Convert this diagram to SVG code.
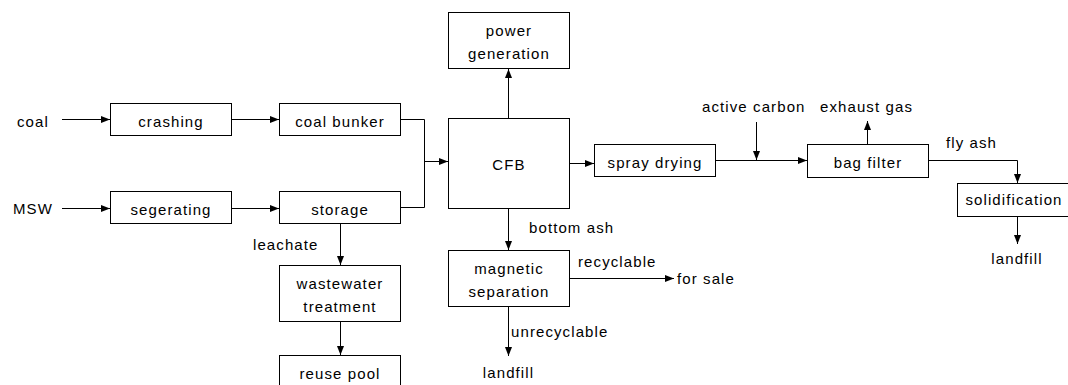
<svg xmlns="http://www.w3.org/2000/svg" width="1068" height="385" viewBox="0 0 1068 385">
  <style>
    .box { fill: #fff; stroke: #000; stroke-width: 1; }
    .lbl { font-family: "Liberation Sans", Arial, sans-serif; font-size: 15px; fill: #000; letter-spacing: 1.1px; }
    .c { text-anchor: middle; }
    .wire { fill: none; stroke: #000; stroke-width: 1; }
    .arr { marker-end: url(#head); }
  </style>
  <defs>
    <marker id="head" markerUnits="userSpaceOnUse" markerWidth="10" markerHeight="8" refX="9" refY="3.5" orient="auto">
      <path d="M0,0 L9,3.5 L0,7 z" fill="#000"/>
    </marker>
  </defs>
  <rect width="1068" height="385" fill="#fff"/>

  <!-- connectors -->
  <g id="connectors">
    <path class="wire arr" d="M62,119.5 H110"/>
    <path class="wire arr" d="M231,119.5 H279"/>
    <path class="wire arr" d="M62,208.5 H110"/>
    <path class="wire arr" d="M231,208.5 H279"/>
    <path class="wire" d="M400,119.5 H424.5 V207.5 H400"/>
    <path class="wire arr" d="M424.5,161.5 H448"/>
    <path class="wire arr" d="M508.5,118 V69"/>
    <path class="wire arr" d="M569,163.5 H594"/>
    <path class="wire arr" d="M508.5,209 V250"/>
    <path class="wire arr" d="M340.5,224 V265"/>
    <path class="wire arr" d="M340.5,322 V355"/>
    <path class="wire arr" d="M569,278.5 H674"/>
    <path class="wire arr" d="M508.5,307 V356"/>
    <path class="wire arr" d="M715,160.5 H807"/>
    <path class="wire arr" d="M756.5,122 V160"/>
    <path class="wire arr" d="M867.5,144 V121"/>
    <path class="wire arr" d="M928,160.5 H1017.5 V183"/>
    <path class="wire arr" d="M1017.5,217 V244"/>
  </g>

  <!-- inputs -->
  <g id="in-coal"><text class="lbl" x="17" y="127">coal</text></g>
  <g id="in-msw"><text class="lbl" x="13" y="214">MSW</text></g>

  <!-- process boxes -->
  <g id="crashing">
    <rect class="box" x="110.5" y="103.5" width="121" height="32"/>
    <text class="lbl c" x="171" y="127">crashing</text>
  </g>
  <g id="coal-bunker">
    <rect class="box" x="279.5" y="103.5" width="121" height="32"/>
    <text class="lbl c" x="340" y="127">coal bunker</text>
  </g>
  <g id="segerating">
    <rect class="box" x="110.5" y="191.5" width="121" height="32"/>
    <text class="lbl c" x="171" y="215">segerating</text>
  </g>
  <g id="storage">
    <rect class="box" x="279.5" y="191.5" width="121" height="32"/>
    <text class="lbl c" x="340" y="215">storage</text>
  </g>
  <g id="power-generation">
    <rect class="box" x="448.5" y="12.5" width="121" height="56"/>
    <text class="lbl c" x="509" y="35.5">power</text>
    <text class="lbl c" x="509" y="59">generation</text>
  </g>
  <g id="cfb">
    <rect class="box" x="448.5" y="118.5" width="121" height="90"/>
    <text class="lbl c" x="509" y="170">CFB</text>
  </g>
  <g id="spray-drying">
    <rect class="box" x="594.5" y="144.5" width="121" height="32"/>
    <text class="lbl c" x="655" y="168">spray drying</text>
  </g>
  <g id="bag-filter">
    <rect class="box" x="807.5" y="144.5" width="121" height="33"/>
    <text class="lbl c" x="868" y="168">bag filter</text>
  </g>
  <g id="solidification">
    <rect class="box" x="957.5" y="183.5" width="112" height="33"/>
    <text class="lbl c" x="1014" y="205">solidification</text>
  </g>
  <g id="wastewater-treatment">
    <rect class="box" x="279.5" y="265.5" width="121" height="56"/>
    <text class="lbl c" x="340" y="288.5">wastewater</text>
    <text class="lbl c" x="340" y="312">treatment</text>
  </g>
  <g id="reuse-pool">
    <rect class="box" x="279.5" y="355.5" width="121" height="40"/>
    <text class="lbl c" x="340" y="378.5">reuse pool</text>
  </g>
  <g id="magnetic-separation">
    <rect class="box" x="448.5" y="250.5" width="121" height="56"/>
    <text class="lbl c" x="509" y="273.5">magnetic</text>
    <text class="lbl c" x="509" y="297">separation</text>
  </g>

  <!-- stream labels and end points -->
  <g id="labels">
    <text class="lbl" x="253" y="250">leachate</text>
    <text class="lbl" x="529" y="233">bottom ash</text>
    <text class="lbl" x="578" y="267">recyclable</text>
    <text class="lbl" x="677" y="284">for sale</text>
    <text class="lbl" x="511" y="336.5">unrecyclable</text>
    <text class="lbl c" x="508.5" y="377.5">landfill</text>
    <text class="lbl" x="702" y="111.5">active carbon</text>
    <text class="lbl" x="820" y="111.5">exhaust gas</text>
    <text class="lbl" x="946" y="148">fly ash</text>
    <text class="lbl c" x="1017" y="263.5">landfill</text>
  </g>
</svg>
